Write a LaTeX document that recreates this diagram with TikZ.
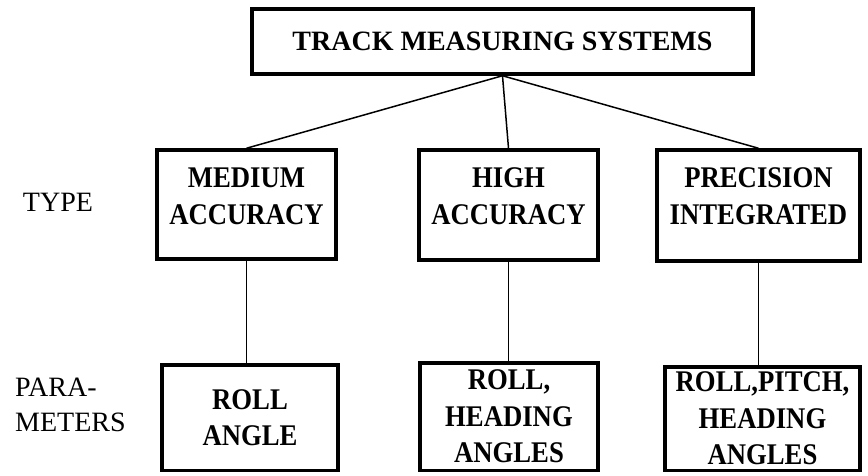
\documentclass[tikz,border=0pt]{standalone}
\usepackage{fontspec}
\setmainfont{Liberation Serif}
\newfontfamily\boxfont{Liberation Serif}[FakeStretch=0.89]
\usetikzlibrary{positioning}
\tikzset{
  sysbox/.style={draw, line width=3.5pt, inner sep=0pt, align=center,
    font=\boxfont\fontsize{30}{36.5}\selectfont\bfseries},
  boxtext/.style={align=center, inner sep=0pt, font=\boxfont\fontsize{30}{37}\selectfont\bfseries},
  rowlabel/.style={align=left, inner sep=0pt, font=\fontsize{28}{35}\selectfont},
  sysline/.style={line width=1.5pt},
}

\begin{document}
\begin{tikzpicture}[x=1pt, y=-1pt]
  \useasboundingbox (0,0) rectangle (868,476);
  % title
  \node[sysbox, minimum width=501, minimum height=65, font=\fontsize{28}{34}\selectfont\bfseries] (top) at (502.5,41.5) {TRACK MEASURING SYSTEMS};
  % row labels
  \node[rowlabel] (typelbl) at (58,202) {TYPE};
  \node[rowlabel, anchor=west] (paralbl) at (15,405) {PARA-\\METERS};
  % type row
  \node[sysbox, minimum width=179, minimum height=109] (med) at (246.5,204.5) {};
  \node[sysbox, minimum width=179, minimum height=110] (high) at (508.5,205) {};
  \node[sysbox, minimum width=203, minimum height=111] (prec) at (758.5,205.5) {};
  \node[boxtext] (medtxt) at (246.5,196.5) {MEDIUM\\ACCURACY};
  \node[boxtext] (hightxt) at (508.5,196.5) {HIGH\\ACCURACY};
  \node[boxtext] (prectxt) at (758.5,196.5) {PRECISION\\INTEGRATED};
  % parameter row
  \node[sysbox, minimum width=176, minimum height=105.5] (medp) at (250,417.5) {ROLL\\ANGLE};
  \node[sysbox, minimum width=178, minimum height=107.5] (highp) at (509,416.5) {ROLL,\\HEADING\\ANGLES};
  \node[sysbox, minimum width=195, minimum height=103.5] (precp) at (762.5,418.5) {ROLL,PITCH,\\HEADING\\ANGLES};
  % connections
  \foreach \n in {med,high,prec} \draw[sysline] (top.south) -- (\n.north);
  \foreach \n in {med,high,prec} \draw[sysline] (\n.south) -- (\n.south |- \n p.north);
\end{tikzpicture}
\end{document}
